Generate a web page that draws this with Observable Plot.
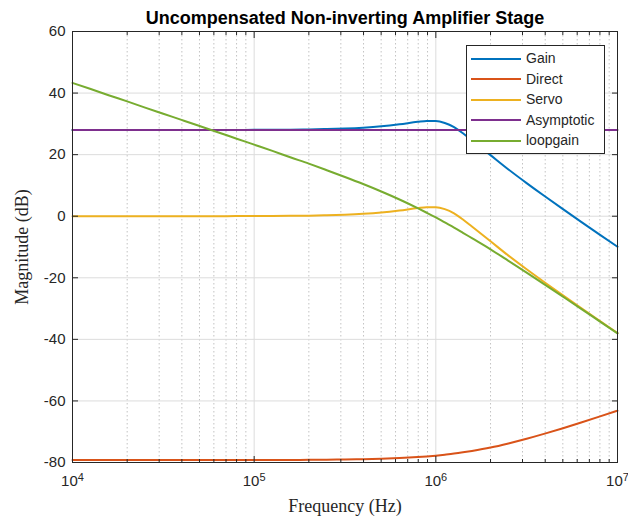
<!DOCTYPE html>
<html>
<head>
<meta charset="utf-8">
<script src="https://cdn.jsdelivr.net/npm/d3@7"></script>
<script src="https://cdn.jsdelivr.net/npm/@observablehq/plot@0.6"></script>
<style>
  body { margin: 0; background: #fff; }
  #wrap { position: relative; width: 628px; height: 520px; }
  #legend {
    position: absolute; left: 466px; top: 45px; width: 139px; height: 109px;
    box-sizing: border-box; border: 1px solid #262626; background: #fff;
    font: 14px "Liberation Sans", Arial, sans-serif; color: #262626;
    padding-top: 2px;
  }
  #legend .row { position: relative; height: 20.5px; line-height: 20.5px; }
  #legend .sw { position: absolute; left: 4px; top: 9.5px; width: 50px; height: 2px; }
  #legend .lb { position: absolute; left: 59px; top: 0; white-space: nowrap; }
</style>
</head>
<body>
<div id="wrap"></div>
<script>
// ---- data ----
const freq = [1e4, 1.26e4, 1.58e4, 2e4, 2.51e4, 3.16e4, 3.98e4, 5.01e4, 6.31e4, 7.94e4,
              1e5, 1.26e5, 1.58e5, 2e5, 2.51e5, 3.16e5, 3.98e5, 5.01e5, 6.31e5, 7.94e5,
              8.91e5, 1e6, 1.12e6, 1.26e6, 1.41e6, 1.58e6, 2e6, 2.51e6, 3.16e6, 3.98e6,
              5.01e6, 6.31e6, 7.94e6, 1e7];
const gain = [28.0, 28.0, 28.0, 28.0, 28.0, 28.0, 28.01, 28.01, 28.02, 28.03,
              28.05, 28.08, 28.12, 28.19, 28.31, 28.49, 28.77, 29.2, 29.85, 30.65,
              30.95, 30.93, 30.3, 28.92, 26.93, 24.63, 19.84, 15.19, 10.76, 6.47,
              2.3, -1.82, -5.89, -9.93];
const direct = [-79.2, -79.2, -79.2, -79.2, -79.2, -79.2, -79.2, -79.2, -79.2, -79.2,
                -79.18, -79.17, -79.16, -79.14, -79.09, -79.03, -78.94, -78.8, -78.57, -78.24,
                -78.03, -77.77, -77.46, -77.11, -76.7, -76.23, -75.13, -73.8, -72.29, -70.63,
                -68.86, -67.01, -65.11, -63.17];
const servo = [0.0, 0.0, 0.0, 0.0, 0.0, 0.0, 0.01, 0.01, 0.02, 0.03,
               0.05, 0.08, 0.12, 0.19, 0.31, 0.49, 0.77, 1.2, 1.85, 2.65,
               2.95, 2.93, 2.3, 0.92, -1.07, -3.37, -8.16, -12.81, -17.24, -21.53,
               -25.7, -29.82, -33.89, -37.93];
const loopgain = [43.3, 41.3, 39.3, 37.3, 35.29, 33.29, 31.29, 29.29, 27.28, 25.26,
                  23.24, 21.21, 19.15, 17.07, 14.95, 12.75, 10.46, 8.03, 5.43, 2.62,
                  1.13, -0.41, -2.02, -3.67, -5.38, -7.13, -10.75, -14.49, -18.32, -22.21,
                  -26.14, -30.09, -34.06, -38.04];
const asymFreq = [1e4, 1e7];
const asymptotic = [28, 28];

const seriesNames = ["Gain", "Direct", "Servo", "Asymptotic", "loopgain"];
const seriesColors = ["#0072BD", "#D95319", "#EDB120", "#7E2F8E", "#77AC30"];

const xMajor = [1e4, 1e5, 1e6, 1e7];
const xMinor = [2e4, 3e4, 4e4, 5e4, 6e4, 7e4, 8e4, 9e4,
                2e5, 3e5, 4e5, 5e5, 6e5, 7e5, 8e5, 9e5,
                2e6, 3e6, 4e6, 5e6, 6e6, 7e6, 8e6, 9e6];
const yTicks = [-80, -60, -40, -20, 0, 20, 40, 60];
const title = "Uncompensated Non-inverting Amplifier Stage";
const xLabel = "Frequency (Hz)";
const yLabel = "Magnitude (dB)";

// ---- table for the library ----
const rows = [
  ...freq.map((f, i) => ({f, v: gain[i], name: "Gain"})),
  ...freq.map((f, i) => ({f, v: direct[i], name: "Direct"})),
  ...freq.map((f, i) => ({f, v: servo[i], name: "Servo"})),
  ...asymFreq.map((f, i) => ({f, v: asymptotic[i], name: "Asymptotic"})),
  ...freq.map((f, i) => ({f, v: loopgain[i], name: "loopgain"}))
];

const sans = '"Liberation Sans", Arial, Helvetica, sans-serif';
const serif = '"Liberation Serif", "DejaVu Serif", serif';
const axisCol = "#262626";

const chart = Plot.plot({
  width: 628, height: 520,
  marginTop: 31, marginRight: 11, marginBottom: 58, marginLeft: 72,
  style: {fontFamily: sans, fontSize: "15px", color: axisCol, background: "#fff", overflow: "visible"},
  x: {type: "log", domain: [1e4, 1e7]},
  y: {domain: [-80, 60]},
  color: {domain: seriesNames, range: seriesColors},
  marks: [
    Plot.gridX(xMinor, {stroke: "#b4b4b4", strokeOpacity: 1, strokeDasharray: "1.5,2.5", strokeWidth: 0.8}),
    Plot.gridX(xMajor, {stroke: "#dcdcdc", strokeOpacity: 1, strokeWidth: 1}),
    Plot.gridY(yTicks, {stroke: "#dcdcdc", strokeOpacity: 1, strokeWidth: 1}),
    Plot.line(rows, {x: "f", y: "v", z: "name", stroke: "name", strokeWidth: 2, curve: "monotone-x"}),
    Plot.frame({stroke: axisCol, strokeWidth: 1}),
    // inward ticks
    Plot.axisX(xMajor, {anchor: "bottom", tickSize: -6, tickFormat: () => "", label: null, stroke: axisCol}),
    Plot.axisX(xMajor, {anchor: "top", tickSize: -6, tickFormat: () => "", label: null, stroke: axisCol}),
    Plot.axisX(xMinor, {anchor: "bottom", tickSize: -3, tickFormat: () => "", label: null, stroke: axisCol}),
    Plot.axisX(xMinor, {anchor: "top", tickSize: -3, tickFormat: () => "", label: null, stroke: axisCol}),
    Plot.axisY(yTicks, {anchor: "left", tickSize: -6, tickFormat: () => "", label: null, stroke: axisCol}),
    Plot.axisY(yTicks, {anchor: "right", tickSize: -6, tickFormat: () => "", label: null, stroke: axisCol}),
    // tick labels
    Plot.axisX(xMajor, {anchor: "bottom", tickSize: 0, tickPadding: 13, label: null,
      tickFormat: d => "10^" + Math.round(Math.log10(d))}),
    Plot.axisY(yTicks, {anchor: "left", tickSize: 0, tickPadding: 7, label: null,
      tickFormat: d => String(d)}),
    // axis titles and title
    Plot.text([xLabel], {text: d => d, frameAnchor: "bottom", lineAnchor: "middle", dy: 44, fontFamily: serif, fontSize: 18, fill: axisCol}),
    Plot.text([yLabel], {text: d => d, frameAnchor: "left", textAnchor: "middle", dx: -50, rotate: -90, fontFamily: serif, fontSize: 18, fill: axisCol}),
    Plot.text([title], {text: d => d, frameAnchor: "top", lineAnchor: "middle", dy: -13, fontFamily: sans, fontWeight: "bold", fontSize: 18, fill: "#000"})
  ]
});

// remove empty tick texts, format powers of ten with superscripts
chart.querySelectorAll("text").forEach(t => {
  const s = t.textContent;
  if (s === "") { t.remove(); return; }
  const m = /^10\^(\d+)$/.exec(s);
  if (m) {
    t.textContent = "";
    const a = document.createElementNS("http://www.w3.org/2000/svg", "tspan");
    a.textContent = "10";
    const b = document.createElementNS("http://www.w3.org/2000/svg", "tspan");
    b.textContent = m[1];
    b.setAttribute("dy", "-0.45em");
    b.setAttribute("font-size", "11px");
    t.appendChild(a); t.appendChild(b);
  }
});

const wrap = document.getElementById("wrap");
wrap.appendChild(chart);

// legend overlay inside the axes (as in the reference)
const legend = document.createElement("div");
legend.id = "legend";
seriesNames.forEach((n, i) => {
  const row = document.createElement("div");
  row.className = "row";
  const sw = document.createElement("div");
  sw.className = "sw";
  sw.style.background = seriesColors[i];
  const lb = document.createElement("div");
  lb.className = "lb";
  lb.textContent = n;
  row.appendChild(sw); row.appendChild(lb);
  legend.appendChild(row);
});
wrap.appendChild(legend);
</script>
</body>
</html>
